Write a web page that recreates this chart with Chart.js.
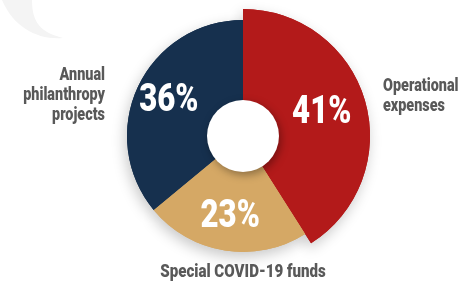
<!DOCTYPE html>
<html>
<head>
<meta charset="utf-8">
<script src="https://cdn.jsdelivr.net/npm/chart.js@4/dist/chart.umd.min.js"></script>
<style>
html,body{margin:0;padding:0;background:#fff;}
#wrap{position:relative;width:467px;height:284px;}
canvas{display:block;}
</style>
</head>
<body>
<div id="wrap"><canvas id="c" width="467" height="284"></canvas></div>
<script>
const categories = ["Operational expenses", "Special COVID-19 funds", "Annual philanthropy projects"];
const values = [41, 23, 36];
const valueLabels = ["41%", "23%", "36%"];
const sliceColors = ["#b31a1a", "#d5a865", "#16304e"];

const FONT = 'Roboto, "Noto Sans", sans-serif';

function condensedText(ctx, text, x, y, sx) {
  ctx.save();
  ctx.translate(x, y);
  ctx.scale(sx, 1);
  ctx.fillText(text, 0, 0);
  ctx.restore();
}

const decoPlugin = {
  id: 'deco',
  beforeDraw(chart) {
    const ctx = chart.ctx;
    ctx.save();
    ctx.fillStyle = '#f4f4f4';
    ctx.beginPath();
    ctx.moveTo(2, 0);
    ctx.lineTo(32, 0);
    ctx.bezierCurveTo(32, 22, 40, 32, 63, 38);
    ctx.bezierCurveTo(38, 40, 14, 28, 2, 0);
    ctx.closePath();
    ctx.fill();
    ctx.restore();
  }
};

const bigSlicePlugin = {
  id: 'bigSlice',
  afterDatasetUpdate(chart) {
    const meta = chart.getDatasetMeta(0);
    const el = meta.data[0];
    if (el && !el._enlarged) {
      el.outerRadius = el.outerRadius + 11;
      el._enlarged = true;
    }
  },
  beforeDatasetsDraw(chart) {
    const ctx = chart.ctx;
    const meta = chart.getDatasetMeta(0);
    ctx.save();
    ctx.shadowColor = 'rgba(0,0,0,0.22)';
    ctx.shadowBlur = 14;
    ctx.shadowOffsetX = -2;
    ctx.shadowOffsetY = 5;
    meta.data.forEach(el => el.draw(ctx, chart.chartArea));
    ctx.restore();
  },
  afterDatasetsDraw(chart) {
    const ctx = chart.ctx;
    const meta = chart.getDatasetMeta(0);
    const el0 = meta.data[0];
    const cx = el0.x, cy = el0.y;
    // inner white disc with soft shadow
    ctx.save();
    ctx.shadowColor = 'rgba(0,0,0,0.35)';
    ctx.shadowBlur = 8;
    ctx.shadowOffsetX = 2;
    ctx.shadowOffsetY = 3;
    ctx.fillStyle = '#ffffff';
    ctx.beginPath();
    ctx.arc(cx, cy, 36, 0, Math.PI * 2);
    ctx.fill();
    ctx.restore();

    // value labels
    ctx.save();
    ctx.fillStyle = '#ffffff';
    ctx.font = '900 39px ' + FONT;
    ctx.textAlign = 'center';
    ctx.textBaseline = 'middle';
    meta.data.forEach((el, i) => {
      const mid = (el.startAngle + el.endAngle) / 2;
      const r = 82;
      const x = cx + Math.cos(mid) * r;
      const y = cy + Math.sin(mid) * r;
      condensedText(ctx, valueLabels[i], x, y, 0.8);
    });
    ctx.restore();

    // category labels
    ctx.save();
    ctx.fillStyle = '#595959';
    ctx.font = '900 18px ' + FONT;
    ctx.textBaseline = 'middle';
    ctx.textAlign = 'left';
    ["Operational", "expenses"].forEach((t, i) => condensedText(ctx, t, 383, 86 + i * 20, 0.8));
    ctx.textAlign = 'right';
    ["Annual", "philanthropy", "projects"].forEach((t, i) => condensedText(ctx, t, 105, 75 + i * 20, 0.8));
    ctx.textAlign = 'center';
    condensedText(ctx, "Special COVID-19 funds", 243, 272, 0.84);
    ctx.restore();
  }
};

new Chart(document.getElementById('c'), {
  type: 'doughnut',
  data: {
    labels: categories,
    datasets: [{
      data: values,
      backgroundColor: sliceColors,
      borderWidth: 0,
      hoverOffset: 0
    }]
  },
  options: {
    responsive: false,
    animation: false,
    cutout: '30%',
    layout: { padding: { left: 127, right: 108, top: 20, bottom: 32 } },
    plugins: {
      legend: { display: false },
      tooltip: { enabled: false }
    },
    events: []
  },
  plugins: [decoPlugin, bigSlicePlugin]
});
</script>
</body>
</html>
